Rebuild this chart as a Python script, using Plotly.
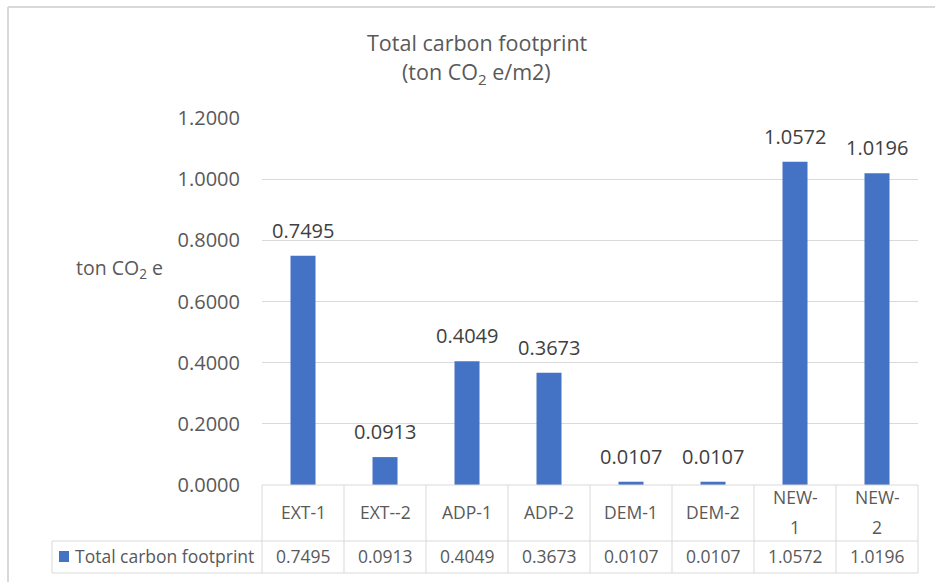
import plotly.graph_objects as go

# Chart data
categories = ["EXT-1", "EXT--2", "ADP-1", "ADP-2", "DEM-1", "DEM-2", "NEW-1", "NEW-2"]
category_labels = ["EXT-1", "EXT--2", "ADP-1", "ADP-2", "DEM-1", "DEM-2", "NEW-<br>1", "NEW-<br>2"]
footprint = [0.7495, 0.0913, 0.4049, 0.3673, 0.0107, 0.0107, 1.0572, 1.0196]
series_name = "Total carbon footprint"
y_ticks = [0.0, 0.2, 0.4, 0.6, 0.8, 1.0, 1.2]

W, H = 935, 582
PL, PR, PT, PB = 262, 918, 118, 485  # plot area in pixels

BAR = "#4472C4"
GRID = "#d9d9d9"
TEXT = "#595959"
LABEL = "#404040"
FONT = "'Open Sans', 'Noto Sans', sans-serif"


def px_x(px):
    return (px - PL) / (PR - PL)


def px_y(py):
    return (PB - py) / (PB - PT)


fig = go.Figure()
fig.add_trace(go.Bar(
    x=categories, y=footprint, name=series_name,
    marker=dict(color=BAR, line=dict(width=0)),
    width=0.305, showlegend=False, hoverinfo="x+y",
))

annotations = []
# value labels above the bars
for c, v in zip(categories, footprint):
    annotations.append(dict(
        x=c, y=v, xref="x", yref="y", text=f"{v:.4f}", showarrow=False,
        xanchor="center", yanchor="bottom", yshift=10,
        font=dict(family=FONT, size=20, color=LABEL),
    ))

# data table: category row (wrapped labels get wider line spacing) and value row
LINE_GAP = 30
for c, lab, v in zip(categories, category_labels, footprint):
    parts = lab.split("<br>")
    top = 512 - LINE_GAP * (len(parts) - 1) / 2
    for k, part in enumerate(parts):
        annotations.append(dict(
            x=c, y=px_y(top + k * LINE_GAP), xref="x", yref="paper", text=part,
            showarrow=False, xanchor="center", yanchor="middle",
            font=dict(family=FONT, size=17.5, color=TEXT),
        ))
    annotations.append(dict(
        x=c, y=px_y(556), xref="x", yref="paper", text=f"{v:.4f}", showarrow=False,
        xanchor="center", yanchor="middle", font=dict(family=FONT, size=17.5, color=TEXT),
    ))
annotations.append(dict(
    x=px_x(73), y=px_y(556), xref="paper", yref="paper", text=series_name,
    showarrow=False, xanchor="left", yanchor="middle",
    font=dict(family=FONT, size=17.5, color=TEXT),
))

# title and axis title
annotations.append(dict(
    x=px_x(477), y=px_y(43), xref="paper", yref="paper", text="Total carbon footprint",
    showarrow=False, xanchor="center", yanchor="middle",
    font=dict(family=FONT, size=21.5, color=TEXT),
))
annotations.append(dict(
    x=px_x(476), y=px_y(73), xref="paper", yref="paper", text="(ton CO<sub>2</sub> e/m2)",
    showarrow=False, xanchor="center", yanchor="middle",
    font=dict(family=FONT, size=21.5, color=TEXT),
))
annotations.append(dict(
    x=px_x(119), y=px_y(268), xref="paper", yref="paper", text="ton CO<sub>2</sub> e",
    showarrow=False, xanchor="center", yanchor="middle",
    font=dict(family=FONT, size=19.5, color=TEXT),
))

shapes = []


def line(x0, y0, x1, y1, color=GRID, width=1):
    shapes.append(dict(type="line", xref="paper", yref="paper",
                       x0=px_x(x0), y0=px_y(y0), x1=px_x(x1), y1=px_y(y1),
                       line=dict(color=color, width=width)))


# table grid
line(PL, PB, PR, PB)
line(52, 541, PR, 541)
line(52, 573, PR, 573)
line(52, 541, 52, 573)
n = len(categories)
for i in range(n + 1):
    xx = PL + (PR - PL) * i / n
    line(xx, PB, xx, 573)

# legend key in table
shapes.append(dict(type="rect", xref="paper", yref="paper",
                   x0=px_x(59), x1=px_x(69), y0=px_y(551), y1=px_y(562),
                   fillcolor=BAR, line=dict(width=0)))

# chart frame
line(8, 7, 940, 7, color="#d9d9d9", width=2)
line(8, 7, 8, 590, color="#d9d9d9", width=2)

fig.update_layout(
    width=W, height=H, autosize=False,
    margin=dict(l=PL, r=W - PR, t=PT, b=H - PB, pad=0),
    paper_bgcolor="white", plot_bgcolor="white",
    xaxis=dict(type="category", range=[-0.5, n - 0.5], showticklabels=False,
               showgrid=False, showline=False, zeroline=False, ticks="", fixedrange=True),
    yaxis=dict(range=[0, 1.2], tickvals=y_ticks, tickformat=".4f",
               showgrid=True, gridcolor=GRID, gridwidth=1, zeroline=False,
               showline=False, ticks="", ticklabelstandoff=21,
               tickfont=dict(family=FONT, size=20, color=TEXT), fixedrange=True),
    annotations=annotations,
    shapes=shapes,
    showlegend=False,
)

fig.write_html("out.html")
